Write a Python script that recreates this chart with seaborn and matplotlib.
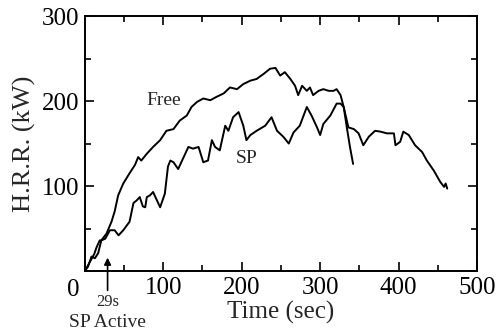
import numpy as np
import pandas as pd
import matplotlib
matplotlib.use("Agg")
import matplotlib.pyplot as plt
import matplotlib.transforms as mtransforms
import seaborn as sns

# ---- data ----
free_t = [0, 4, 8.5, 12.8, 17, 21, 27.6, 34, 38, 42.5, 49, 57, 64, 68, 72, 79, 87, 96,
          104, 113, 121, 130, 136, 143, 151, 160, 168, 177, 185, 194, 202, 211, 219,
          228, 236, 243, 249, 255, 262, 268, 272, 277, 283, 287, 291, 298, 304, 311,
          317, 321, 326, 330, 334, 338, 342]
free_v = [0, 5, 17, 15, 21, 36, 44, 58, 70, 89, 103, 115, 125, 134, 130, 138, 146, 154,
          165, 167, 177, 183, 193, 199, 203, 201, 205, 209, 216, 214, 220, 224, 226,
          232, 238, 239, 230, 234, 226, 218, 207, 218, 212, 216, 207, 212, 214, 212,
          212, 214, 207, 193, 169, 146, 126]

sp_t = [0, 6, 12, 15, 19, 21, 26, 32, 38, 43, 49, 57, 62, 66, 70, 74, 77, 79, 83, 87,
        96, 102, 106, 109, 113, 119, 126, 132, 138, 145, 151, 157, 162, 166, 172, 179,
        183, 189, 196, 202, 206, 211, 219, 230, 238, 245, 253, 260, 266, 274, 283,
        289, 296, 300, 304, 313, 321, 326, 330, 336, 343, 349, 355, 362, 370, 377,
        385, 394, 396, 402, 406, 413, 421, 430, 436, 445, 453, 458, 460, 462]
sp_v = [0, 10, 20, 28, 36, 36, 38, 48, 48, 42, 48, 58, 80, 83, 87, 76, 75, 87, 89, 93,
        75, 91, 123, 130, 128, 120, 134, 146, 144, 146, 128, 130, 154, 146, 142, 171,
        165, 181, 187, 171, 154, 160, 165, 171, 181, 165, 158, 150, 163, 171, 193,
        183, 169, 160, 173, 183, 197, 197, 193, 169, 167, 162, 148, 158, 165, 164,
        162, 162, 148, 152, 164, 160, 148, 140, 130, 118, 105, 99, 103, 97]

x_ticks = [0, 100, 200, 300, 400, 500]
y_ticks = [0, 100, 200, 300]

df = pd.concat([
    pd.DataFrame({"t": free_t, "v": free_v, "case": "Free"}),
    pd.DataFrame({"t": sp_t, "v": sp_v, "case": "SP"}),
])

sns.set_style("ticks")
plt.rcParams["font.family"] = ["Liberation Serif", "DejaVu Serif"]
plt.rcParams["mathtext.fontset"] = "stix"

fig = plt.figure(figsize=(4.99, 3.35), dpi=100)
ax = fig.add_axes([0.170, 0.191, 0.786, 0.761])

sns.lineplot(data=df, x="t", y="v", units="case", estimator=None, sort=False,
             color="black", linewidth=1.4, ax=ax, legend=False)

ax.set_xlim(0, 500)
ax.set_ylim(0, 300)
ax.set_xticks(x_ticks)
ax.set_yticks(y_ticks)
ax.set_xticks(np.arange(50, 500, 100), minor=True)
ax.set_yticks(np.arange(50, 300, 100), minor=True)
ax.set_xticklabels(["" if v == 0 else str(v) for v in x_ticks])
ax.set_yticklabels([str(v) for v in y_ticks])

for s in ax.spines.values():
    s.set_linewidth(1.4)
    s.set_visible(True)
    s.set_color("black")
ax.tick_params(which="both", direction="in", top=True, right=True,
               width=1.2, colors="black", labelsize=18)
ax.tick_params(which="major", length=6.5, pad=4)
ax.tick_params(which="minor", length=4.5)

# shift the y "0" label down a bit as in the reference
lbl0 = ax.get_yticklabels()[0]
lbl0.set_transform(lbl0.get_transform() +
                   mtransforms.ScaledTranslation(0, -16 / 100, fig.dpi_scale_trans))

ax.set_xlabel("Time (sec)", fontsize=18, labelpad=2)
ax.set_ylabel("H.R.R. (kW)", fontsize=19, labelpad=4)

ax.text(100, 201, "Free", fontsize=14, ha="center", va="center")
ax.text(206, 132, "SP", fontsize=14, ha="center", va="center")

ax.annotate("", xy=(29, 19), xytext=(29, -26), xycoords="data",
            arrowprops=dict(arrowstyle="-|>", color="black", lw=1.2,
                            mutation_scale=10),
            annotation_clip=False)
ax.text(29, -36, "29s", fontsize=12, ha="center", va="center", clip_on=False)
ax.text(29, -60, "SP Active", fontsize=14, ha="center", va="center", clip_on=False)

fig.savefig("out.png", dpi=100)
